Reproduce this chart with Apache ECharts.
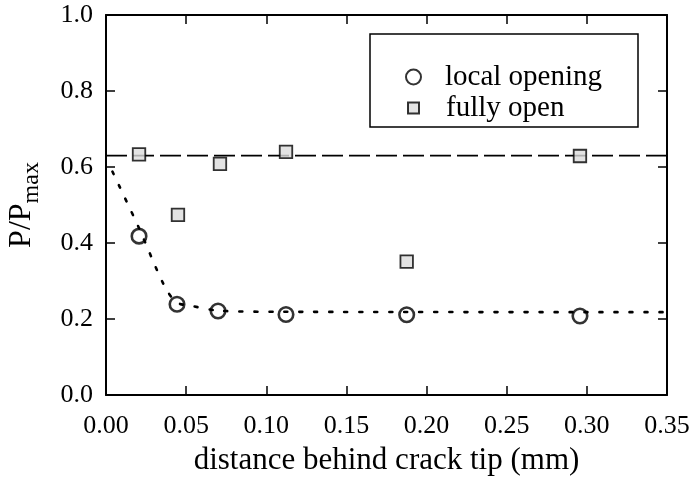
<!DOCTYPE html>
<html>
<head>
<meta charset="utf-8">
<script src="https://cdn.jsdelivr.net/npm/echarts@6/dist/echarts.min.js"></script>
<style>
  html, body { margin: 0; padding: 0; background: #fff; }
  #chart { width: 694px; height: 477px; }
</style>
</head>
<body>
<div id="chart"></div>
<script>
// Load ratio at which the crack is seen to open, versus distance behind the tip
const distance = [0.0206, 0.0443, 0.0699, 0.1123, 0.1876, 0.2957];
const localOpening = [0.418, 0.239, 0.221, 0.212, 0.211, 0.208];
const fullyOpenX = [0.0206, 0.0449, 0.0711, 0.1123, 0.1876, 0.2957];
const fullyOpen = [0.633, 0.474, 0.608, 0.640, 0.351, 0.629];

// Fitted trend through the local-opening points (dotted curve)
const fitX = [0.004, 0.0205, 0.0362, 0.044, 0.054, 0.070, 0.110, 0.350];
const fitY = [0.588, 0.440, 0.289, 0.244, 0.234, 0.222, 0.219, 0.218];

// Mean fully-open level (dashed line)
const openLevelX = [0.0, 0.35];
const openLevelY = [0.63, 0.63];

const xTicks = [0, 0.35, 0.05];
const yTicks = [0, 1.0, 0.2];

const zip = (xs, ys) => xs.map((x, i) => [x, ys[i]]);

const serif = '"Liberation Serif", "DejaVu Serif", serif';
const ink = '#000';

const chart = echarts.init(document.getElementById('chart'));

const axisCommon = {
  type: 'value',
  axisLine: { show: true, onZero: false, lineStyle: { color: ink, width: 2 } },
  axisTick: { show: true, inside: true, length: 9, lineStyle: { color: ink, width: 1.5 } },
  splitLine: { show: false }
};

const legendText = { fontFamily: serif, fontSize: 29, color: ink, lineHeight: 30 };

chart.setOption({
  animation: false,
  backgroundColor: '#fff',
  grid: { left: 106, top: 15, right: 27, bottom: 82, containLabel: false, outerBoundsMode: 'none' },
  graphic: [{
    type: 'rect',
    shape: { x: 370, y: 34, width: 268, height: 93 },
    style: { fill: '#fff', stroke: ink, lineWidth: 1.5 },
    z: 5
  }],
  legend: [
    {
      data: ['local opening'],
      left: 405, top: 62, padding: 0,
      itemWidth: 15, itemHeight: 15,
      textStyle: Object.assign({ padding: [0, 0, 0, 19] }, legendText),
      z: 10
    },
    {
      data: ['fully open'],
      left: 407, top: 93, padding: 0,
      itemWidth: 11, itemHeight: 11,
      textStyle: Object.assign({ padding: [0, 0, 0, 22] }, legendText),
      z: 10
    }
  ],
  xAxis: [
    Object.assign({}, axisCommon, {
      position: 'bottom',
      min: xTicks[0], max: xTicks[1], interval: xTicks[2],
      name: 'distance behind crack tip (mm)',
      nameLocation: 'middle',
      nameGap: 50,
      nameTextStyle: { fontFamily: serif, fontSize: 31, color: ink },
      axisLabel: {
        margin: 18,
        fontFamily: serif, fontSize: 26, color: ink,
        formatter: v => v.toFixed(2)
      }
    }),
    Object.assign({}, axisCommon, {
      position: 'top',
      min: xTicks[0], max: xTicks[1], interval: xTicks[2],
      axisLabel: { show: false }
    })
  ],
  yAxis: [
    Object.assign({}, axisCommon, {
      position: 'left',
      min: yTicks[0], max: yTicks[1], interval: yTicks[2],
      name: '{p|P/P}{s|max}',
      nameLocation: 'middle',
      nameRotate: 90,
      nameGap: 50,
      nameTextStyle: {
        rich: {
          p: { fontFamily: serif, fontSize: 32, color: ink, lineHeight: 38, verticalAlign: 'top', padding: [0, 0, 12, 0] },
          s: { fontFamily: serif, fontSize: 24, color: ink, lineHeight: 24, verticalAlign: 'bottom' }
        }
      },
      axisLabel: {
        margin: 13,
        fontFamily: serif, fontSize: 26, color: ink,
        formatter: v => v.toFixed(1)
      }
    }),
    Object.assign({}, axisCommon, {
      position: 'right',
      min: yTicks[0], max: yTicks[1], interval: yTicks[2],
      axisLabel: { show: false }
    })
  ],
  series: [
    {
      name: 'fit',
      type: 'line',
      data: zip(fitX, fitY),
      showSymbol: false,
      smooth: 0.3,
      lineStyle: { color: ink, width: 2.6, type: [3, 12], cap: 'round' },
      z: 1
    },
    {
      name: 'open level',
      type: 'line',
      data: zip(openLevelX, openLevelY),
      showSymbol: false,
      lineStyle: { color: ink, width: 1.8, type: [21, 6] },
      z: 1
    },
    {
      name: 'local opening',
      type: 'scatter',
      data: zip(distance, localOpening),
      symbol: 'circle',
      symbolSize: 14.5,
      itemStyle: { color: 'rgba(0,0,0,0)', borderColor: ink, borderWidth: 2.6 },
      z: 3
    },
    {
      name: 'fully open',
      type: 'scatter',
      data: zip(fullyOpenX, fullyOpen),
      symbol: 'rect',
      symbolSize: 12.5,
      itemStyle: { color: '#dcdcdc', borderColor: ink, borderWidth: 1.8 },
      z: 3
    }
  ]
});
</script>
</body>
</html>
